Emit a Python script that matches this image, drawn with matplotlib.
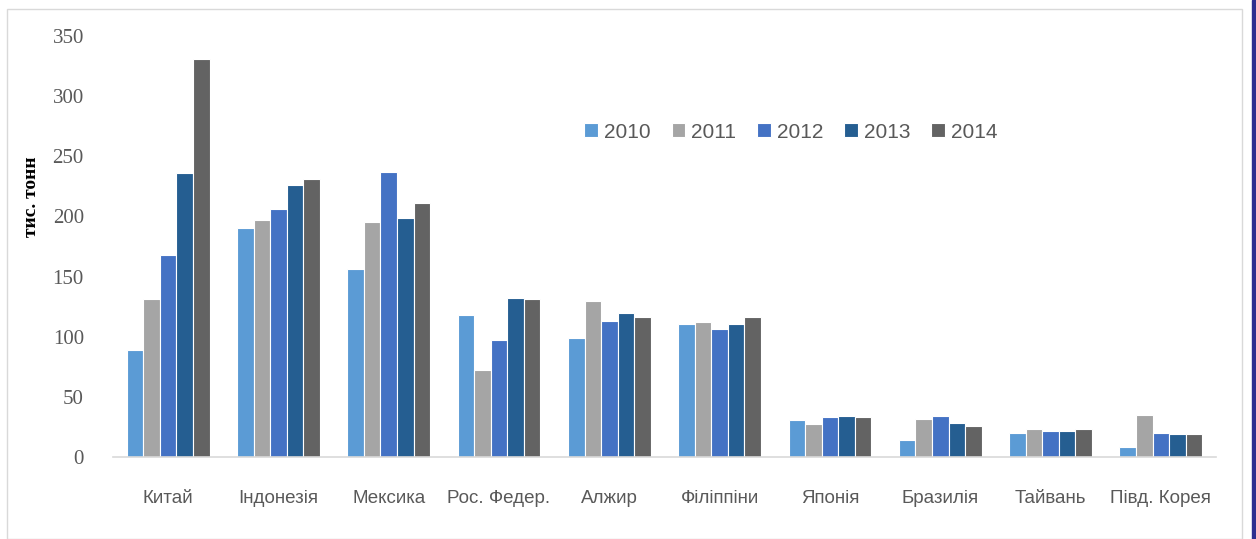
import matplotlib.pyplot as plt
import matplotlib.patches as mpatches
import numpy as np

# дані
countries = ['Китай', 'Індонезія', 'Мексика', 'Рос. Федер.', 'Алжир',
             'Філіппіни', 'Японія', 'Бразилія', 'Тайвань', 'Півд. Корея']
years = ['2010', '2011', '2012', '2013', '2014']
v2010 = [89, 190, 156, 118, 99, 110.5, 30.5, 14.5, 20, 8]
v2011 = [131, 197, 195, 72, 130, 112, 27.5, 32, 23, 35]
v2012 = [168, 206, 237, 97, 113, 106.5, 33, 34, 22, 20]
v2013 = [236, 226, 199, 132, 120, 110.5, 34, 28.5, 22, 19]
v2014 = [331, 231, 211, 131, 116, 116, 33, 26, 23, 19]
series = [v2010, v2011, v2012, v2013, v2014]
colors = ['#5B9BD5', '#A5A5A5', '#4472C4', '#255E91', '#636363']

W, H = 1256, 539
fig = plt.figure(figsize=(W / 100, H / 100), dpi=100)
ax = fig.add_axes([113 / W, 1 - 457 / H, (1216 - 113) / W, (457 - 36) / H])

x = np.arange(len(countries))
bw = 0.15
for i, (vals, c, yr) in enumerate(zip(series, colors, years)):
    ax.bar(x + (i - 2) * bw, vals, width=bw, color=c, edgecolor='white',
           linewidth=0.8, label=yr, zorder=2)

ax.set_xlim(-0.5, len(countries) - 0.5)
ax.set_ylim(0, 350)
ax.set_yticks(range(0, 351, 50))
ax.set_xticks(x)
ax.set_xticklabels(countries, fontsize=13.5, color='#595959',
                   family='Liberation Sans')
for lab in ax.get_yticklabels():
    lab.set_fontsize(15)
    lab.set_color('#595959')
    lab.set_family('Liberation Serif')
ax.tick_params(axis='both', length=0)
ax.tick_params(axis='y', pad=21)
ax.tick_params(axis='x', pad=24)
for s in ['top', 'right', 'left']:
    ax.spines[s].set_visible(False)
ax.spines['bottom'].set_color('#D9D9D9')
ax.spines['bottom'].set_linewidth(1.2)

fig.text(32 / W, 1 - 197 / H, 'тис. тонн', rotation=90, ha='center',
         va='center', fontsize=14, fontweight='bold', family='Liberation Serif')

leg = ax.legend(loc='center', bbox_to_anchor=(791 / W, 1 - 132 / H),
                bbox_transform=fig.transFigure, ncol=5, frameon=False,
                handlelength=0.65, handleheight=0.65, handletextpad=0.3,
                columnspacing=1.0, prop={'family': 'Liberation Sans', 'size': 15})
for t in leg.get_texts():
    t.set_color('#595959')

# рамка
fig.patches.append(mpatches.Rectangle((7 / W, 0), (1242 - 7) / W, 1 - 9 / H,
                                      transform=fig.transFigure, fill=False,
                                      edgecolor='#D9D9D9', linewidth=1))
fig.patches.append(mpatches.Rectangle((1252 / W, 0), 4 / W, 1,
                                      transform=fig.transFigure,
                                      color='#2E2E8F'))

fig.savefig('out.png', dpi=100)
